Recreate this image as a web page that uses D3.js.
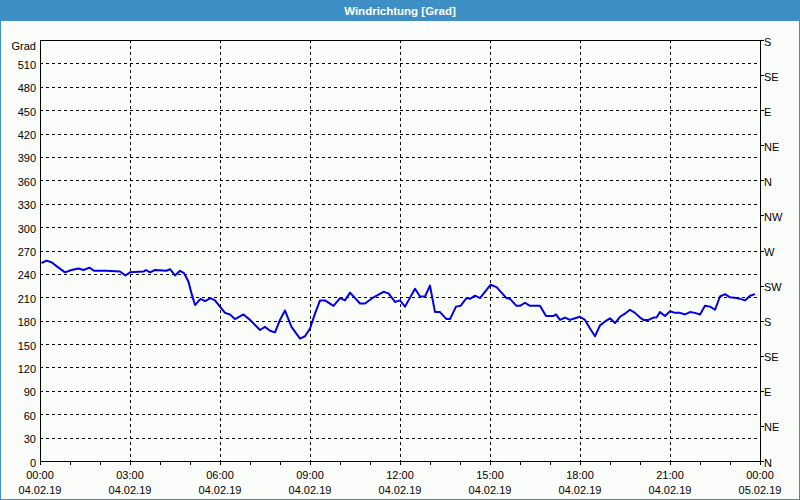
<!DOCTYPE html>
<html><head><meta charset="utf-8">
<script src="https://cdn.jsdelivr.net/npm/d3@7"></script>
<style>
html,body{margin:0;padding:0;background:#fff;}
svg{display:block;font-family:"Liberation Sans",Arial,sans-serif;}
</style></head>
<body><svg id="c" width="800" height="500"></svg>
<script>
const title = "Windrichtung [Grad]";
const yUnit = "Grad";
const startDate = new Date(2019, 1, 4, 0, 0);
const endDate = new Date(2019, 1, 5, 0, 0);
// minutes after 04.02.19 00:00
const minutes = [3,13,23,33,50,63,77,87,99,108,133,160,171,180,207,212,220,230,253,260,270,280,288,297,303,310,321,330,341,350,360,370,380,390,407,420,440,450,460,470,480,490,503,520,530,540,550,560,570,587,600,610,620,640,650,667,687,697,710,720,730,750,760,770,780,790,800,813,820,832,841,853,860,870,880,901,913,933,940,953,960,970,980,1000,1012,1027,1032,1040,1050,1060,1070,1080,1090,1100,1110,1120,1130,1140,1150,1160,1170,1180,1190,1200,1207,1217,1227,1233,1240,1250,1260,1270,1280,1290,1300,1310,1320,1330,1340,1350,1360,1370,1380,1393,1400,1410,1420,1430];
const values = [254,257,255,250,242,245,247,245,248,244,244,243,238,242,243,245,242,245,244,246,238,244,241,230,215,200,208,205,209,206,198,190,188,182,188,181,168,172,167,165,181,193,172,157,160,170,189,206,206,199,209,206,216,202,202,210,217,215,204,206,198,221,211,211,225,191,191,182,182,198,199,209,208,212,209,226,223,209,208,199,199,203,199,199,186,186,188,181,184,181,183,185,181,170,160,174,179,183,177,185,189,194,190,184,181,181,184,184,191,186,192,190,190,188,191,190,188,199,198,194,211,214,210,209,208,206,212,214];
const yTicks = [0,30,60,90,120,150,180,210,240,270,300,330,360,390,420,450,480,510];
const dirTicks = [0,45,90,135,180,225,270,315,360,405,450,495,540];
const dirLabels = ["N","NE","E","SE","S","SW","W","NW","N","NE","E","SE","S"];

const svg = d3.select("#c");
const W = 800, H = 500;
const m = {l:40, r:760, t:40, b:461};
const blue = "#3d8fc6";

svg.append("rect").attr("width",W).attr("height",H).attr("fill","#fbfdfb");
svg.append("rect").attr("x",0.5).attr("y",0.5).attr("width",W-1).attr("height",H-1)
  .attr("fill","none").attr("stroke",blue).attr("stroke-width",1);
svg.append("rect").attr("x",0).attr("y",0).attr("width",W).attr("height",21).attr("fill",blue);
svg.append("text").attr("x",W/2).attr("y",14.5).attr("text-anchor","middle")
  .attr("fill","#fff").attr("font-weight","bold").attr("font-size",11.5).text(title);

const x = d3.scaleTime().domain([startDate,endDate]).range([m.l,m.r]);
const y = d3.scaleLinear().domain([0,540]).range([m.b,m.t]);

const g = svg.append("g");
// horizontal grid
g.selectAll(".hg").data(yTicks.filter(d=>d>0)).join("line")
  .attr("x1",m.l).attr("x2",m.r).attr("y1",d=>Math.round(y(d))+0.5).attr("y2",d=>Math.round(y(d))+0.5)
  .attr("stroke","#000").attr("stroke-dasharray","3,3").attr("stroke-width",1);
// vertical grid
const majors = d3.timeHour.every(3).range(startDate, endDate).filter(d=>+d>+startDate);
g.selectAll(".vg").data(majors).join("line")
  .attr("x1",d=>Math.round(x(d))+0.5).attr("x2",d=>Math.round(x(d))+0.5).attr("y1",m.t).attr("y2",m.b)
  .attr("stroke","#000").attr("stroke-dasharray","3,3").attr("stroke-width",1);

// frame
const frame = svg.append("g").attr("stroke","#000").attr("stroke-width",1);
frame.append("line").attr("x1",m.l+0.5).attr("x2",m.l+0.5).attr("y1",m.t).attr("y2",m.b+1);
frame.append("line").attr("x1",m.r+0.5).attr("x2",m.r+0.5).attr("y1",m.t).attr("y2",m.b+1);
frame.append("line").attr("x1",m.l).attr("x2",m.r+1).attr("y1",m.t+0.5).attr("y2",m.t+0.5);
frame.append("line").attr("x1",m.l).attr("x2",m.r+1).attr("y1",m.b+0.5).attr("y2",m.b+0.5);

// left axis labels
const fs = 11;
svg.append("g").selectAll("text").data(yTicks).join("text")
  .attr("x",36).attr("y",d=>y(d)+5.5).attr("text-anchor","end").attr("font-size",fs).attr("fill","#000")
  .text(d=>d);
svg.append("text").attr("x",36).attr("y",50).attr("text-anchor","end").attr("font-size",fs).text(yUnit);

// right axis
const ra = svg.append("g");
ra.selectAll("line").data(dirTicks).join("line")
  .attr("x1",m.r).attr("x2",m.r+4).attr("y1",d=>Math.round(y(d))+0.5).attr("y2",d=>Math.round(y(d))+0.5)
  .attr("stroke","#000");
ra.selectAll("text").data(dirTicks).join("text")
  .attr("x",764).attr("y",d=>y(d)+5.5).attr("font-size",fs).attr("fill","#000")
  .text((d,i)=>dirLabels[i]);

// bottom ticks
const hours = d3.timeHour.every(1).range(startDate, d3.timeMinute.offset(endDate,1));
svg.append("g").selectAll("line").data(hours).join("line")
  .attr("x1",d=>Math.round(x(d))+0.5).attr("x2",d=>Math.round(x(d))+0.5)
  .attr("y1",m.b).attr("y2",m.b+4).attr("stroke","#000");
const lbl = d3.timeHour.every(3).range(startDate, d3.timeMinute.offset(endDate,1));
const fT = d3.timeFormat("%H:%M"), fD = d3.timeFormat("%d.%m.%y");
const bl = svg.append("g").selectAll("g").data(lbl).join("g");
bl.append("text").attr("x",d=>x(d)).attr("y",479).attr("text-anchor","middle").attr("font-size",fs).text(fT);
bl.append("text").attr("x",d=>x(d)).attr("y",494).attr("text-anchor","middle").attr("font-size",fs).text(fD);

// data line
const data = minutes.map((mm,i)=>({t:d3.timeMinute.offset(startDate,mm), v:values[i]}));
svg.append("path").datum(data)
  .attr("d", d3.line().x(d=>x(d.t)).y(d=>y(d.v)))
  .attr("fill","none").attr("stroke","#0000e6").attr("stroke-width",2).attr("stroke-linejoin","round");
</script></body></html>
